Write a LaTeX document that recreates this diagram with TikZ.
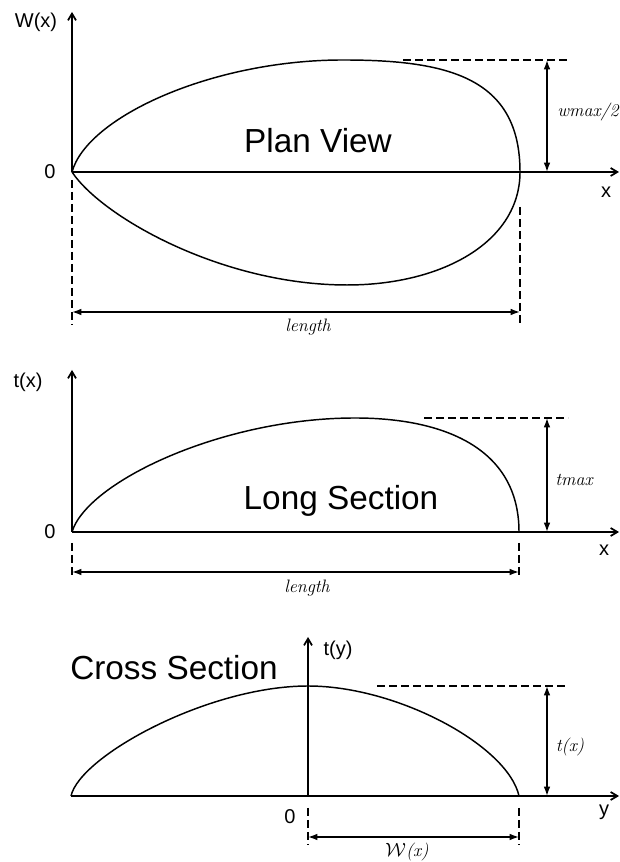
\documentclass[tikz,border=0pt]{standalone}
\usepackage{fontspec}
\newfontfamily\arialfont{Liberation Sans}
\usetikzlibrary{arrows.meta}
\tikzset{
  axis/.style={line width=1.3pt,-{Straight Barb[length=5pt,width=6pt]}},
  outline/.style={line width=1.1pt},
  guide/.style={line width=0.8pt,dash pattern=on 6pt off 3pt},
  dimline/.style={line width=1.1pt,{Latex[length=7pt,width=5pt]}-{Latex[length=7pt,width=5pt]}},
  sanslab/.style={font=\arialfont\fontsize{15}{15}\selectfont,inner sep=0pt},
  title/.style={font=\arialfont\fontsize{25}{25}\selectfont,inner sep=0pt,anchor=base},
  handlab/.style={font=\itshape\fontsize{13.5}{13.5}\selectfont,inner sep=0pt}}
% axes of one panel: prefix, x start, x end, y top
\newcommand{\paxes}[4]{%
  \coordinate (#1o) at (0,0);
  \coordinate (#1l) at (#2,0);
  \coordinate (#1x) at (#3,0);
  \coordinate (#1y) at (0,#4);
  \draw[axis] (#1l) -- (#1x);
  \draw[axis] (#1o) -- (#1y);}
% height mark: prefix, guide from, guide to, arrow x, height
\newcommand{\hmark}[5]{%
  \coordinate (#1a) at (#2,#5);
  \coordinate (#1b) at (#3,#5);
  \coordinate (#1t) at (#4,#5);
  \coordinate (#1f) at (#4,0);
  \draw[guide] (#1a) -- (#1b);
  \draw[dimline] (#1f) -- (#1t);}
% span mark: prefix, left x, right x, left top, right top, bottom, arrow y
\newcommand{\smark}[7]{%
  \coordinate (#1lt) at (#2,#4);
  \coordinate (#1lb) at (#2,#6);
  \coordinate (#1rt) at (#3,#5);
  \coordinate (#1rb) at (#3,#6);
  \coordinate (#1la) at (#2,#7);
  \coordinate (#1ra) at (#3,#7);
  \draw[guide] (#1lt) -- (#1lb);
  \draw[guide] (#1rt) -- (#1rb);
  \draw[dimline] (#1la) -- (#1ra);}
\begin{document}
\begin{tikzpicture}[x=0.75pt,y=0.75pt]
  \useasboundingbox (0,0) rectangle (619,862);
  % plan view
  \begin{scope}[shift={(72,690)}]
    \paxes{p}{0}{547}{160}
    \draw[outline] (po) .. controls (15,55) and (140,112) .. (271,112)
      .. controls (375,112) and (448,95) .. (448,0)
      .. controls (448,-70) and (370,-113) .. (275,-113)
      .. controls (150,-113) and (30,-45) .. (po);
    \hmark{pw}{331}{495}{475}{112}
    \smark{pl}{0}{448}{-8}{-35}{-153}{-140}
    \node[sanslab] (pwlab) at (-36,150) {W(x)};
    \node[sanslab] (pzero) at (-22,0) {0};
    \node[sanslab] (pxlab) at (534,-20) {x};
    \node[handlab] (pwmax) at (516,60) {wmax/2};
    \node[title] (ptitle) at (246,19) {Plan View};
    \node[handlab] (plen) at (236,-155) {length};
  \end{scope}
  % long section
  \begin{scope}[shift={(72,330)}]
    \paxes{l}{0}{547}{162}
    \draw[outline] (lo) .. controls (15,50) and (150,114) .. (283,114)
      .. controls (370,114) and (447,85) .. (447,0);
    \hmark{lt}{352}{496}{475}{114}
    \smark{ll}{0}{447}{-11}{-11}{-46}{-40}
    \node[sanslab] (ltlab) at (-44,150) {t(x)};
    \node[sanslab] (lzero) at (-22,0) {0};
    \node[sanslab] (lxlab) at (532,-18) {x};
    \node[handlab] (ltmax) at (502,52) {tmax};
    \node[title] (ltitle) at (269,22) {Long Section};
    \node[handlab] (llen) at (235,-56) {length};
  \end{scope}
  % cross section
  \begin{scope}[shift={(308,66)}]
    \paxes{c}{-237}{311}{159}
    \draw[outline] (cl) .. controls (-228,40) and (-100,110) .. (0,110)
      .. controls (90,110) and (200,50) .. (211,0);
    \hmark{ct}{69}{259}{239}{110}
    \smark{cw}{0}{211}{-12}{-12}{-49}{-41}
    \node[sanslab] (ctlab) at (30,146) {t(y)};
    \node[title] (ctitle) at (-134,116) {Cross Section};
    \node[sanslab] (czero) at (-18,-21) {0};
    \node[sanslab] (cylab) at (296,-16) {y};
    \node[handlab] (ctx) at (262,49) {t(x)};
    \node[handlab] (cwx) at (99,-56) {$\mathcal{W}$(x)};
  \end{scope}
\end{tikzpicture}
\end{document}
